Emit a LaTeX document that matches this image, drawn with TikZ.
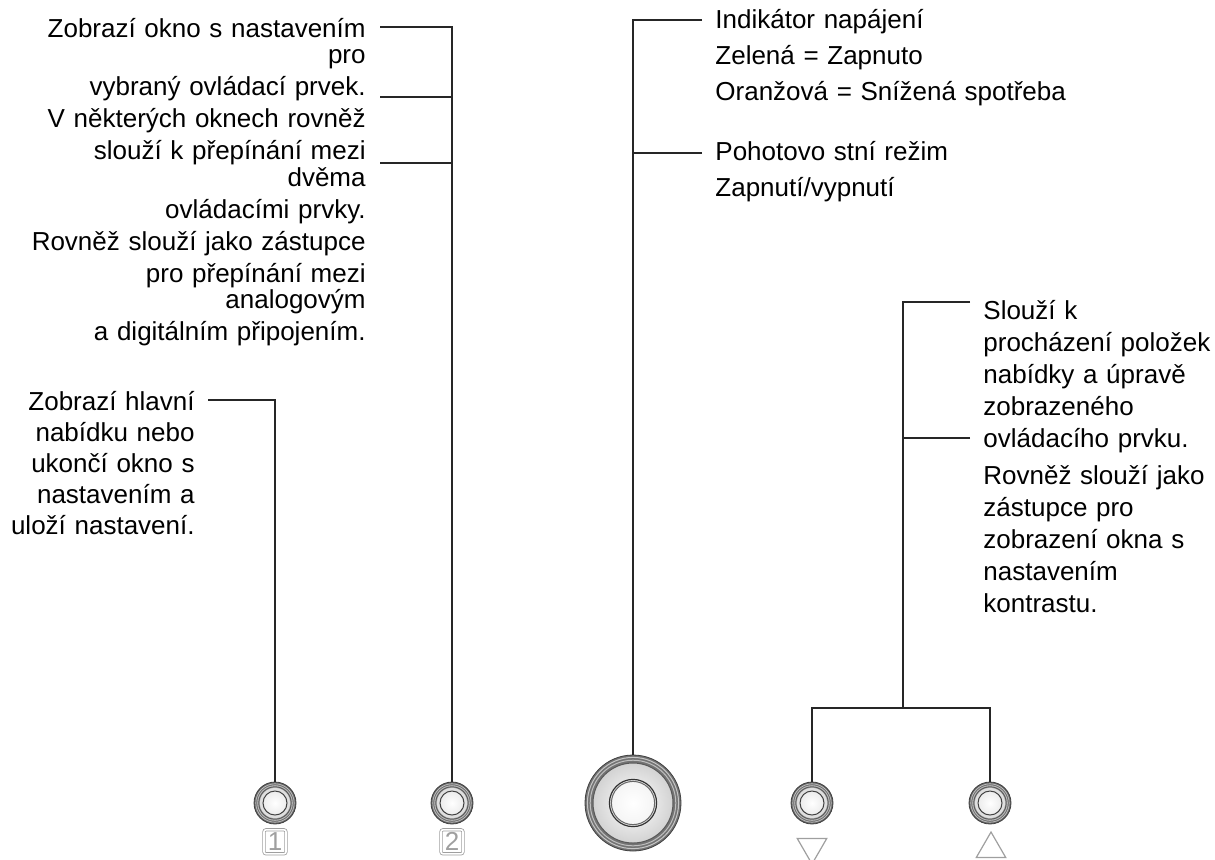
\documentclass[tikz,border=0pt]{standalone}
\usepackage{fontspec}
\setmainfont{Liberation Sans}
\usetikzlibrary{positioning}
\usetikzlibrary{shapes.geometric}

\begin{document}
\begin{tikzpicture}[x=0.5pt,y=-0.5pt,
  every node/.style={font=\fontsize{13}{16}\selectfont, inner sep=0pt},
  leader/.style={draw=black!85, line width=0.6pt},
  txtr/.style={align=right, anchor=base east},
  txtl/.style={align=left, anchor=base west},
  smallbtn/.style={circle, minimum size=21pt, fill=black!60, draw=black!75, line width=0.4pt,
    path picture={
      \coordinate (c) at (path picture bounding box.center);
      \draw[gray!50, line width=0.4pt] (c) circle (9.6pt);
      \fill[gray!55] (c) circle (8.9pt);
      \draw[black!65, line width=0.5pt] (c) circle (8.1pt);
      \fill[gray!25] (c) circle (7.5pt);
      \shadedraw[inner color=white, outer color=gray!15, draw=black!75, line width=0.5pt] (c) circle (6pt);
    }},
  bigbtn/.style={circle, minimum size=48pt, fill=black!55, draw=black!75, line width=0.4pt,
    path picture={
      \coordinate (c) at (path picture bounding box.center);
      \draw[gray!45, line width=0.5pt] (c) circle (22.8pt);
      \draw[gray!50, line width=0.5pt] (c) circle (21.4pt);
      \shadedraw[inner color=white, outer color=gray!35, draw=black!65, line width=0.5pt] (c) circle (20pt);
      \draw[black!80, line width=0.6pt] (c) circle (11.8pt);
      \shadedraw[inner color=white, outer color=gray!8, draw=black!60, line width=0.5pt] (c) circle (10.8pt);
    }},
  numbox/.style={draw=gray!75, double=white, double distance=0.8pt, rounded corners=1pt,
    minimum width=11pt, minimum height=12pt, inner sep=0pt, text=gray!75,
    font=\fontsize{13}{13}\selectfont},
  tri/.style={regular polygon, regular polygon sides=3, draw=gray!75, line width=0.6pt, minimum size=17pt}
]
\useasboundingbox (0,0) rectangle (1215,859);

% buttons
\node[smallbtn] (b1) at (275,803) {};
\node[smallbtn] (b2) at (452,803) {};
\node[bigbtn] (bp) at (633,803) {};
\node[smallbtn] (bd) at (812,803) {};
\node[smallbtn] (bu) at (990,803) {};
\node[numbox, below=2.5pt of b1] (n1) {1};
\node[numbox, below=2.5pt of b2] (n2) {2};
\node[tri, shape border rotate=180] (tdn) at (812,847) {};
\node[tri] (tup) at (991,849) {};

% texts
\node[txtr, text width=180pt] (t1) at (366,37) {Zobrazí okno s nastavením\\[-3pt] pro\\ vybraný ovládací prvek.\\ V některých oknech rovněž\\ slouží k přepínání mezi\\[-2.5pt] dvěma\\ ovládacími prvky.\\ Rovněž slouží jako zástupce\\ pro přepínání mezi\\[-3pt] analogovým\\ a digitálním připojením.};
\node[txtr, text width=100pt, font=\fontsize{13}{15.5}\selectfont] (t2) at (195,410) {Zobrazí hlavní\\ nabídku nebo\\ ukončí okno s\\ nastavením a\\ uloží nastavení.};
\node[txtl, text width=190pt, font=\fontsize{13}{18}\selectfont] (t3) at (715,28) {Indikátor napájení\\ Zelená = Zapnuto\\ Oranžová = Snížená spotřeba};
\node[txtl, text width=190pt, font=\fontsize{13}{18}\selectfont] (t4) at (715,160) {Pohotovo stní režim\\ Zapnutí/vypnutí};
\node[txtl, text width=125pt] (t5) at (983,319) {Slouží k\\ procházení položek\\ nabídky a úpravě\\ zobrazeného\\ ovládacího prvku.\\[2.5pt] Rovněž slouží jako\\ zástupce pro\\ zobrazení okna s\\ nastavením\\ kontrastu.};

% leader ends
\coordinate (a1) at (380,27);
\coordinate (a2) at (380,97);
\coordinate (a3) at (380,163);
\coordinate (a4) at (208,400);
\coordinate (c1) at (702,20);
\coordinate (c2) at (702,153);
\coordinate (d1) at (970,302);
\coordinate (d2) at (970,438);
\coordinate (fork) at (903,708);

\draw[leader] (a1) -| (b2.north);
\draw[leader] (a2) -- (a2 -| b2.north);
\draw[leader] (a3) -- (a3 -| b2.north);
\draw[leader] (a4) -| (b1.north);
\draw[leader] (c1) -| (bp.north);
\draw[leader] (c2) -- (c2 -| bp.north);
\draw[leader] (d1) -| (fork);
\draw[leader] (d2) -- (d2 -| fork);
\draw[leader] (bd.north) |- (fork) -| (bu.north);
\end{tikzpicture}
\end{document}
